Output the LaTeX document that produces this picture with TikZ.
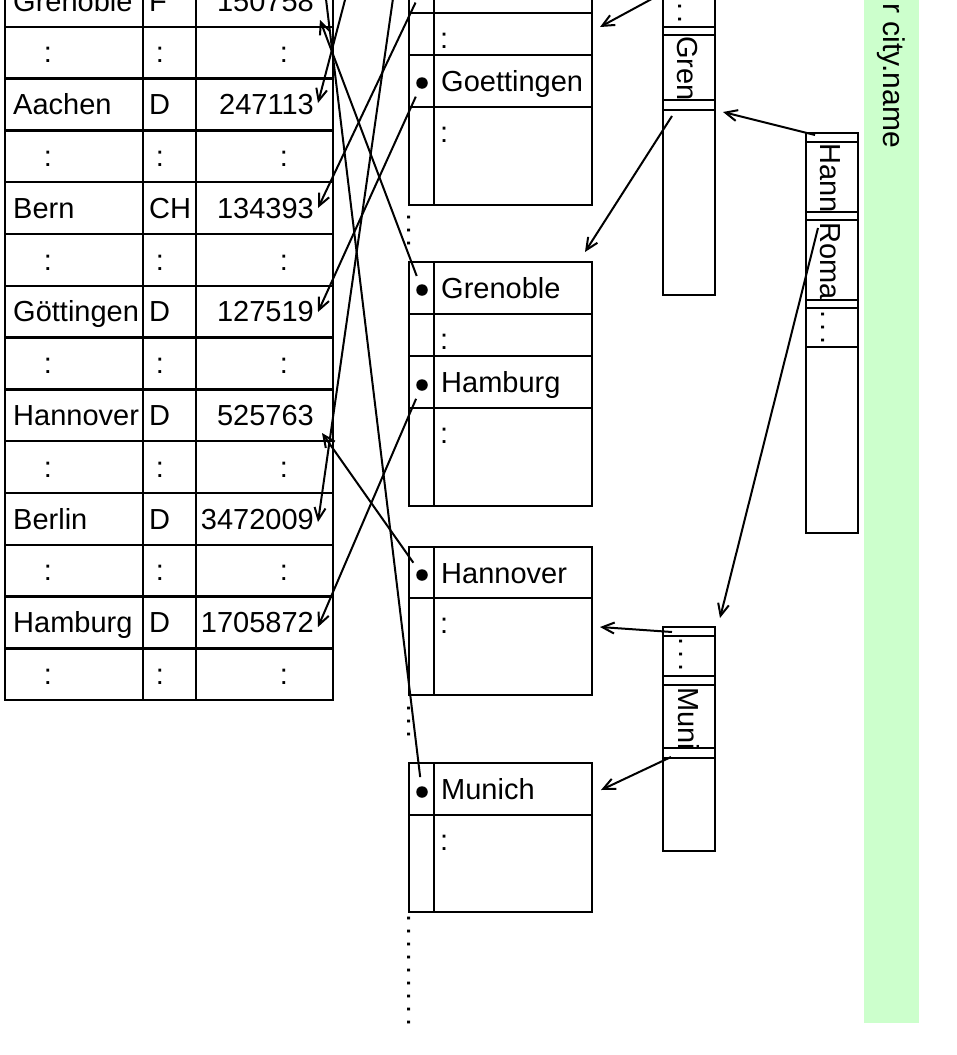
\documentclass[tikz,border=0pt]{standalone}
\usepackage{fontspec}
\setmainfont{Liberation Sans}
\usetikzlibrary{arrows.meta}
\definecolor{band}{RGB}{204,255,204}
\begin{document}
\begin{tikzpicture}[x=1pt,y=-1pt,
  box/.style={line width=2.5pt},
  ptr/.style={line width=2pt,-{Straight Barb[length=12pt,width=11pt]}},
  txt/.style={anchor=base west,inner sep=0pt,font=\fontsize{29}{34}\selectfont},
  txte/.style={anchor=base east,inner sep=0pt,font=\fontsize{29}{34}\selectfont},
  txtc/.style={anchor=base,inner sep=0pt,font=\fontsize{29}{34}\selectfont},
  rtxt/.style={txt,rotate=-90},
  bul/.style={circle,fill=black,inner sep=0pt,minimum size=11.5pt}]
\useasboundingbox (0,0) rectangle (957,1055);
\clip (0,0) rectangle (957,1055);

% green band
\fill[band] (864,-5) rectangle (919,1023);
\node[rtxt,font=\fontsize{30}{36}\selectfont] (title) at (883,3) {r city.name};

% ---------- table ----------
\draw[box] (5,-25) rectangle (333,700);
\foreach \i in {1,...,14} \draw[box] (5,{-25+\i*51.8}) -- (333,{-25+\i*51.8});
\draw[box] (143,-25) -- (143,700);
\draw[box] (196,-25) -- (196,700);
\foreach \i/\n/\c/\p in {0/Grenoble/F/150758,2/Aachen/D/247113,4/Bern/CH/134393,6/Göttingen/D/127519,8/Hannover/D/525763,10/Berlin/D/3472009,12/Hamburg/D/1705872}{
  \node[txt] (tn\i) at (13,{-25+\i*51.8+36}) {\n};
  \node[txt] (tc\i) at (149,{-25+\i*51.8+36}) {\c};
  \node[txte] (tp\i) at (314,{-25+\i*51.8+36}) {\p};
}
\foreach \i in {1,3,...,13}{
  \node[txtc] (ca\i) at (48,{-25+\i*51.8+36}) {:};
  \node[txtc] (cb\i) at (160,{-25+\i*51.8+36}) {:};
  \node[txtc] (cc\i) at (284,{-25+\i*51.8+36}) {:};
}
% arrow targets in the table
\coordinate (tGren) at (320,20);
\coordinate (tAach) at (318,103);
\coordinate (tBern) at (318,208);
\coordinate (tGoet) at (318,312);
\coordinate (tHann) at (322,433);
\coordinate (tBerl) at (318,522);
\coordinate (tHamb) at (318,627);
\coordinate (tMuni) at (314,-100);

% ---------- data pages ----------
\draw[box] (409,-39) rectangle (592,205);
\draw[box] (434,-39) -- (434,205);
\foreach \y in {13,55,107} \draw[box] (409,\y) -- (592,\y);
\draw[box] (409,262) rectangle (592,506);
\draw[box] (434,262) -- (434,506);
\foreach \y in {314,356,408} \draw[box] (409,\y) -- (592,\y);
\draw[box] (409,547) rectangle (592,695);
\draw[box] (434,547) -- (434,695);
\draw[box] (409,598) -- (592,598);
\draw[box] (409,763) rectangle (592,912);
\draw[box] (434,763) -- (434,912);
\draw[box] (409,815) -- (592,815);

\node[txt] (pc1) at (440,48) {:};
\node[txt] (pGoet) at (441,91) {Goettingen};
\node[txt] (pc2) at (440,142) {:};
\node[txt] (pGren) at (441,298) {Grenoble};
\node[txt] (pc3) at (440,349) {:};
\node[txt] (pHamb) at (441,392) {Hamburg};
\node[txt] (pc4) at (440,443) {:};
\node[txt] (pHann) at (441,583) {Hannover};
\node[txt] (pc5) at (440,633) {:};
\node[txt] (pMuni) at (441,799) {Munich};
\node[txt] (pc6) at (440,850) {:};

\coordinate (bBern) at (422,-11);
\node[bul] (bGoet) at (422,83) {};
\node[bul] (bGren) at (422,290) {};
\node[bul] (bHamb) at (422,385) {};
\node[bul] (bHann) at (422,575) {};
\node[bul] (bMuni) at (422,792) {};
\coordinate (bAach) at (422,-294);
\coordinate (bBerl) at (422,-204);

% vertical dots between pages
\node[rtxt] (vd1) at (407,213) {.\kern5pt.\kern5pt.};
\node[rtxt] (vd2) at (407,704) {.\kern5pt.\kern5pt.};
\node[rtxt] (vd3) at (407,914) {.\kern5pt.\kern5pt.\kern5pt.\kern5pt.\kern5pt.\kern5pt.\kern5pt.\kern5pt.};

% ---------- index nodes ----------
\draw[box] (663,-22) rectangle (715,295);
\foreach \y in {-13,27,35,100,110} \draw[box] (663,\y) -- (715,\y);
\node[rtxt] (i1d) at (678,-11) {.\kern5pt.\kern5pt.};
\node[rtxt] (i1g) at (677,36) {Gren};

\draw[box] (806,133) rectangle (858,533);
\foreach \y in {142,212,220,300,308,347} \draw[box] (806,\y) -- (858,\y);
\node[rtxt] (rHann) at (820,143) {Hann};
\node[rtxt] (rRoma) at (820,222) {Roma};
\node[rtxt] (rd) at (821,310) {.\kern5pt.\kern5pt.};

\draw[box] (663,627) rectangle (715,851);
\foreach \y in {636,676,685,748,758} \draw[box] (663,\y) -- (715,\y);
\node[rtxt] (i2d) at (679,637) {.\kern5pt.\kern5pt.};
\node[rtxt] (i2m) at (678,687) {Muni};

\coordinate (qTop) at (672,-12);   \coordinate (aTop) at (600,27);
\coordinate (qGren) at (672,116);  \coordinate (aGren) at (585,252);
\coordinate (qRA) at (815,135);    \coordinate (aRA) at (723,112);
\coordinate (qRB) at (818,228);    \coordinate (aRB) at (720,618);
\coordinate (qSA) at (672,632);    \coordinate (aSA) at (600,627);
\coordinate (qSB) at (671,757);    \coordinate (aSB) at (601,790);

% ---------- connectors ----------
\draw[ptr,shorten <=15pt] (bAach) -- (tAach);
\draw[ptr,shorten <=15pt] (bBerl) -- (tBerl);
\draw[ptr,shorten <=15pt] (bBern) -- (tBern);
\draw[ptr,shorten <=15pt] (bGoet.center) -- (tGoet);
\draw[ptr,shorten <=15pt] (bGren.center) -- (tGren);
\draw[ptr,shorten <=15pt] (bHamb.center) -- (tHamb);
\draw[ptr,shorten <=15pt] (bHann.center) -- (tHann);
\draw[ptr,shorten <=15pt] (bMuni.center) -- (tMuni);

\draw[ptr] (qTop) -- (aTop);
\draw[ptr] (qGren) -- (aGren);
\draw[ptr] (qRA) -- (aRA);
\draw[ptr] (qRB) -- (aRB);
\draw[ptr] (qSA) -- (aSA);
\draw[ptr] (qSB) -- (aSB);
\end{tikzpicture}
\end{document}
